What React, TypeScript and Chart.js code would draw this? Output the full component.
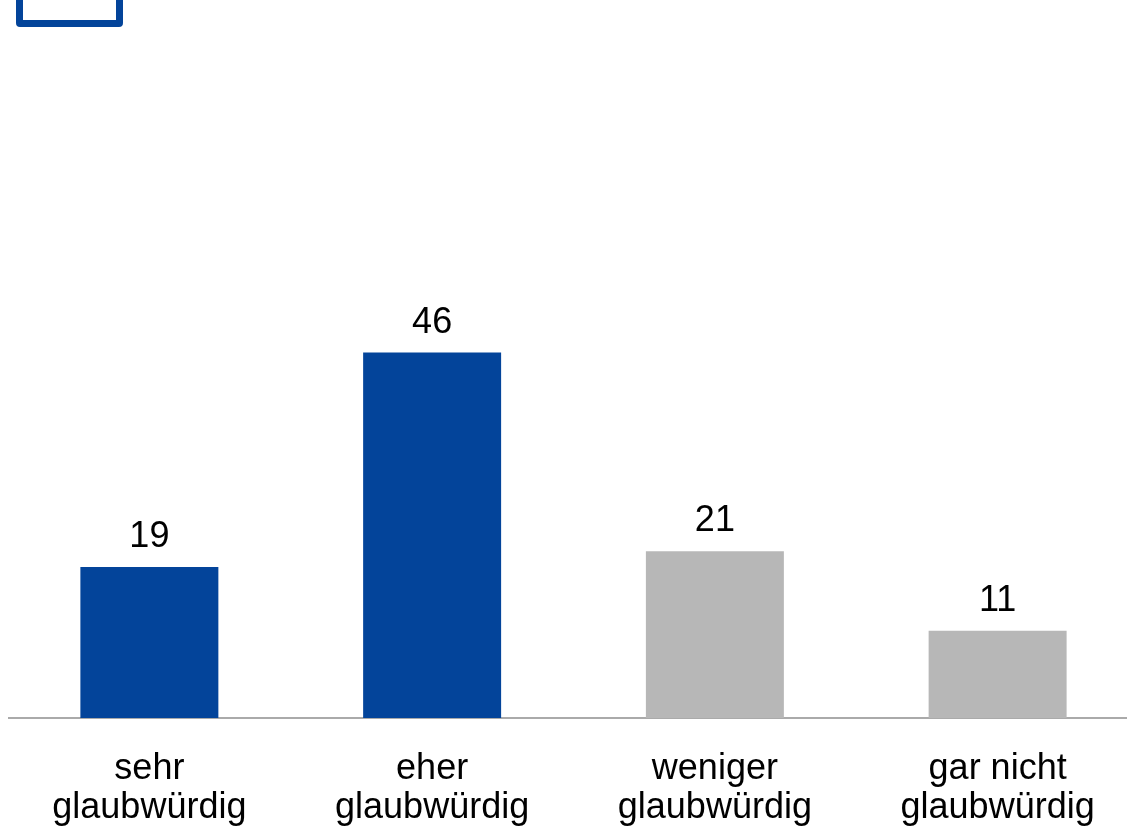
import React, { useEffect, useRef } from "react";
import { Chart, registerables } from "chart.js";

Chart.register(...registerables);

const categories: string[][] = [
  ["sehr", "glaubwürdig"],
  ["eher", "glaubwürdig"],
  ["weniger", "glaubwürdig"],
  ["gar nicht", "glaubwürdig"],
];
const values: number[] = [19, 46, 21, 11];
const barColors: string[] = ["#03449A", "#03449A", "#B7B7B7", "#B7B7B7"];
const yMax = 88;

const FONT = "'Liberation Sans', Arial, sans-serif";

const valueLabels = {
  id: "valueLabels",
  afterDatasetsDraw(chart: any) {
    const ctx = chart.ctx;
    const meta = chart.getDatasetMeta(0);
    ctx.save();
    ctx.font = `36px ${FONT}`;
    ctx.fillStyle = "#000000";
    ctx.textAlign = "center";
    ctx.textBaseline = "bottom";
    meta.data.forEach((bar: any, i: number) => {
      ctx.fillText(String(values[i]), bar.x, bar.y - 12);
    });
    ctx.restore();
  },
};

export default function App() {
  const ref = useRef<HTMLCanvasElement | null>(null);
  useEffect(() => {
    document.documentElement.style.overflow = "hidden";
    document.body.style.marginRight = "0px";
    if (!ref.current) return;
    const chart = new Chart(ref.current, {
      type: "bar",
      data: {
        labels: categories,
        datasets: [
          {
            data: values,
            backgroundColor: barColors,
            categoryPercentage: 1,
            barPercentage: 0.488,
          },
        ],
      },
      options: {
        animation: false,
        responsive: false,
        maintainAspectRatio: false,
        layout: { padding: { top: 11, left: 0, right: 0, bottom: 0 } },
        plugins: { legend: { display: false }, tooltip: { enabled: false } },
        scales: {
          x: {
            grid: { display: false },
            border: { display: true, color: "#AAAAAA", width: 2 },
            afterFit: (scale: any) => {
              scale.height = 114;
            },
            ticks: {
              color: "#000000",
              padding: 23,
              font: { family: FONT, size: 36, lineHeight: 1.1 },
              maxRotation: 0,
              autoSkip: false,
            },
          },
          y: {
            display: false,
            min: 0,
            max: yMax,
          },
        },
      },
      plugins: [valueLabels],
    });
    return () => chart.destroy();
  }, []);
  return (
    <div style={{ position: "relative", width: 1119, height: 824, overflow: "hidden" }}>
      <div
        style={{
          position: "fixed",
          left: 16,
          top: -12,
          width: 107,
          height: 39,
          boxSizing: "border-box",
          border: "7px solid #03449A",
          borderRadius: 4,
        }}
      />
      <canvas ref={ref} width={1131} height={824} style={{ display: "block" }} />
    </div>
  );
}
